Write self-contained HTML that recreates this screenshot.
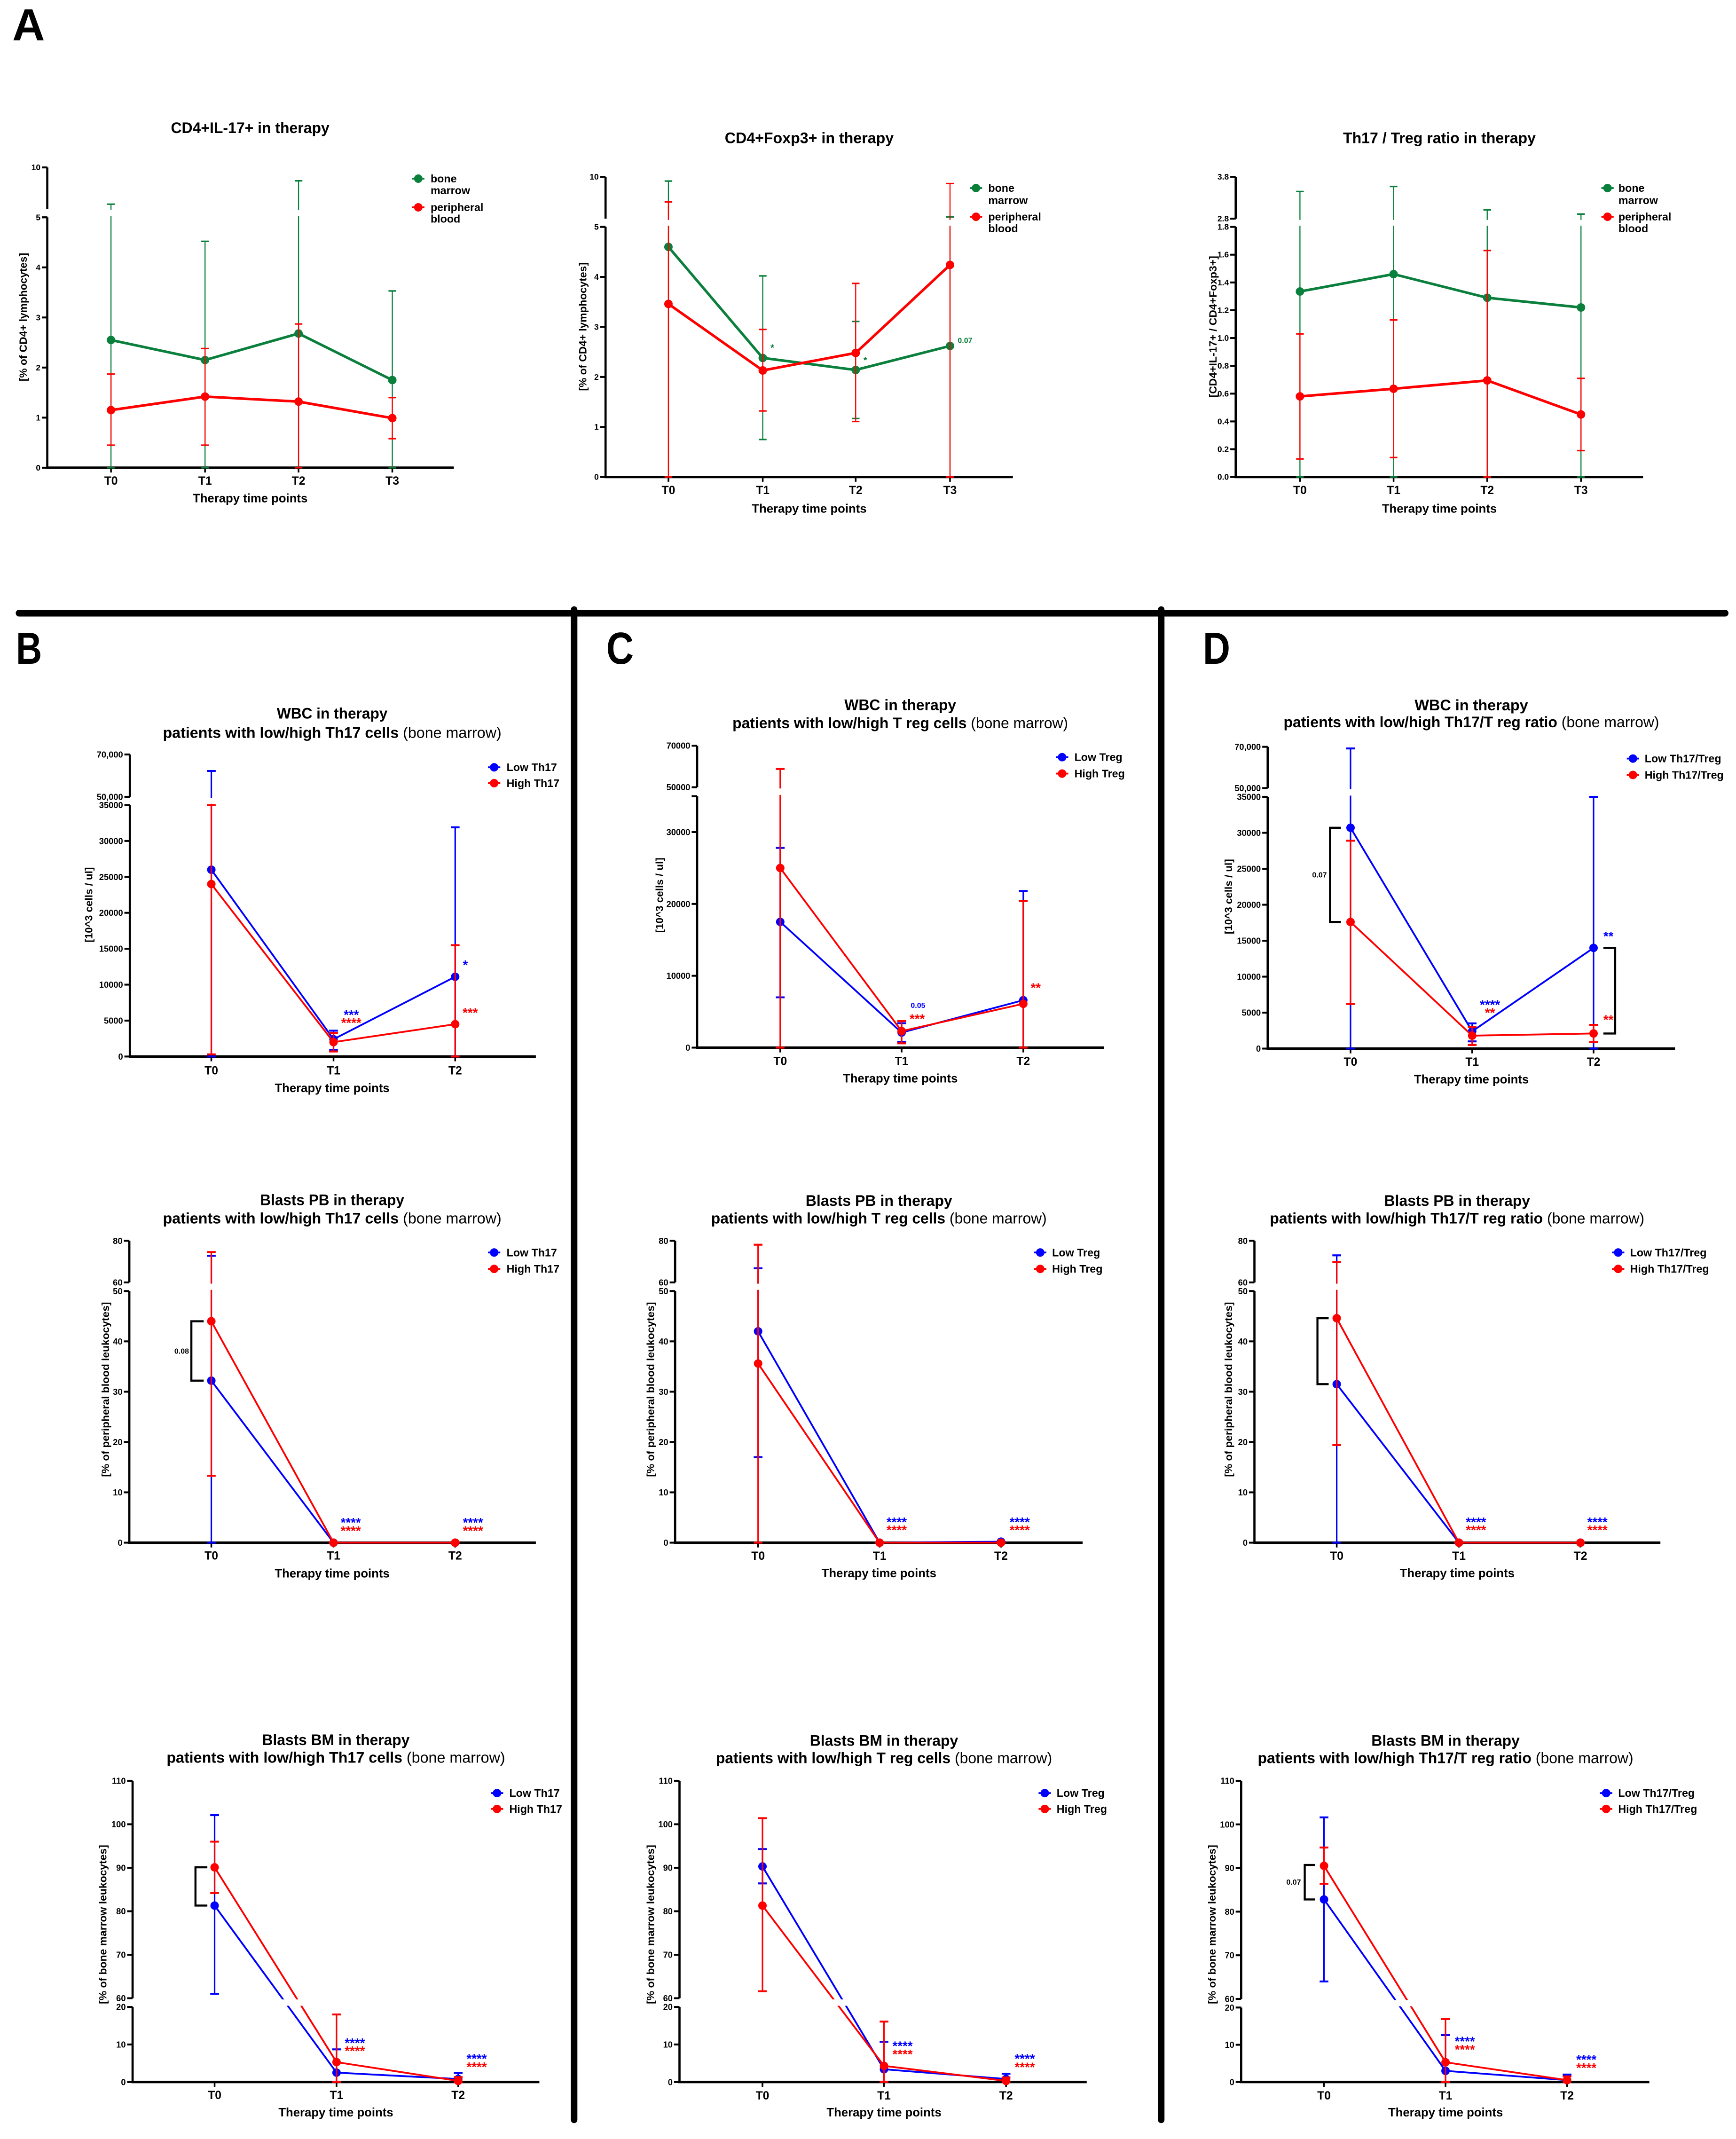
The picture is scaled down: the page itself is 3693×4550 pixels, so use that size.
<!DOCTYPE html>
<html><head><meta charset="utf-8">
<style>
html,body{margin:0;padding:0;background:#fff;}
svg{display:block;font-family:"Liberation Sans",Arial,sans-serif;}
</style></head>
<body>
<svg id="fig" xmlns="http://www.w3.org/2000/svg" width="3693" height="4550" viewBox="0 0 1270 1565" preserveAspectRatio="none">
<rect x="0" y="0" width="1270" height="1565" fill="#fff"/>
<text x="9" y="29.6" font-size="33" font-weight="bold">A</text>
<text x="11.7" y="485.6" font-size="33" font-weight="bold" textLength="19" lengthAdjust="spacingAndGlyphs">B</text>
<text x="443.6" y="485.6" font-size="33" font-weight="bold" textLength="20" lengthAdjust="spacingAndGlyphs">C</text>
<text x="880" y="485.6" font-size="33" font-weight="bold" textLength="20" lengthAdjust="spacingAndGlyphs">D</text>
<line x1="14" y1="448.6" x2="1262" y2="448.6" stroke="#000" stroke-width="5" stroke-linecap="round"/>
<line x1="420" y1="446" x2="420" y2="1551" stroke="#000" stroke-width="4.8" stroke-linecap="round"/>
<line x1="849.5" y1="446" x2="849.5" y2="1551" stroke="#000" stroke-width="4.8" stroke-linecap="round"/>
</svg>
<script>
// ---------- DATA ----------
const cats4 = ["T0","T1","T2","T3"];
const cats3 = ["T0","T1","T2"];

const a1BmMean=[2.55,2.15,2.68,1.75], a1BmUp=[5.55,4.52,8.38,3.53], a1BmLow=[0,0,0,0];
const a1PbMean=[1.15,1.42,1.32,0.99], a1PbUp=[1.87,2.38,2.87,1.40], a1PbLow=[0.45,0.45,0,0.58];
const a1LowerTicks=[0,1,2,3,4,5], a1UpperTicks=[5,10];

const a2BmMean=[4.6,2.38,2.14,2.62], a2BmUp=[9.5,4.02,3.11,5.2], a2BmLow=[0,0.75,1.17,0];
const a2PbMean=[3.46,2.13,2.48,4.24], a2PbUp=[7.0,2.95,3.87,9.2], a2PbLow=[0,1.32,1.11,0];
const a2LowerTicks=[0,1,2,3,4,5], a2UpperTicks=[5,10];

const a3BmMean=[1.335,1.46,1.29,1.22], a3BmUp=[3.45,3.57,3.01,2.91], a3BmLow=[0,0,0,0];
const a3PbMean=[0.58,0.635,0.695,0.45], a3PbUp=[1.03,1.13,1.63,0.71], a3PbLow=[0.13,0.14,0,0.19];
const a3LowerTicks=[0,0.2,0.4,0.6,0.8,1.0,1.2,1.4,1.6,1.8], a3UpperTicks=[2.8,3.8];

const b1LowMean=[26000,2400,11100], b1LowUp=[62200,3600,31900], b1LowLow=[0,900,0];
const b1HighMean=[24000,2000,4500], b1HighUp=[35000,3300,15500], b1HighLow=[300,700,0];
const c1LowMean=[17500,2100,6600], c1LowUp=[27800,3400,21800], c1LowLow=[7000,800,0];
const c1HighMean=[25000,2300,6100], c1HighUp=[58800,3700,20400], c1HighLow=[0,600,0];
const d1LowMean=[30700,2400,14000], d1LowUp=[69200,3500,35000], d1LowLow=[0,1000,0];
const d1HighMean=[17600,1800,2100], d1HighUp=[28900,3000,3300], d1HighLow=[6200,500,900];
const wbcLowerTicks=[0,5000,10000,15000,20000,25000,30000,35000];
const wbcLowerTicksC=[0,10000,20000,30000,35000];
const wbcUpperTicks=[50000,70000];

const b2LowMean=[32.2,0,0], b2LowUp=[72.8,0,0], b2LowLow=[0,0,0];
const b2HighMean=[44,0,0], b2HighUp=[74.6,0,0], b2HighLow=[13.3,0,0];
const c2LowMean=[42,0,0.2], c2LowUp=[66.8,0,0.2], c2LowLow=[17,0,0.2];
const c2HighMean=[35.6,0,0], c2HighUp=[78.1,0,0], c2HighLow=[0,0,0];
const d2LowMean=[31.5,0,0], d2LowUp=[73,0,0], d2LowLow=[0,0,0];
const d2HighMean=[44.6,0,0], d2HighUp=[69.7,0,0], d2HighLow=[19.4,0,0];
const pbLowerTicks=[0,10,20,30,40,50], pbUpperTicks=[60,80];

const b3LowMean=[81.3,2.5,0.8], b3LowUp=[102.1,8.7,2.4], b3LowLow=[61,0,0];
const b3HighMean=[90.1,5.3,0.3], b3HighUp=[96,18,1.3], b3HighLow=[84.2,0,0];
const c3LowMean=[90.3,3.4,0.8], c3LowUp=[94.3,10.7,2.2], c3LowLow=[86.4,0,0];
const c3HighMean=[81.3,4.3,0.3], c3HighUp=[101.4,16.1,1.2], c3HighLow=[61.6,0,0];
const d3LowMean=[82.8,3.0,0.5], d3LowUp=[101.6,12.6,2.0], d3LowLow=[64,0,0];
const d3HighMean=[90.5,5.3,0.5], d3HighUp=[94.7,16.9,1.5], d3HighLow=[86.4,0,0];
const bmLowerTicks=[0,10,20], bmUpperTicks=[60,70,80,90,100,110];

// ---------- DRAWING ----------
const NS="http://www.w3.org/2000/svg";
const svg=document.getElementById('fig');
const GREEN="#0b7f3c", RED="#ff0000", BLUE="#0000ff";
function mk(tag,attrs,parent){const e=document.createElementNS(NS,tag);for(const k in attrs)e.setAttribute(k,attrs[k]);(parent||svg).appendChild(e);return e;}
function yScale(c,v){
  if(v>c.lTop+1e-9){return c.yUb-(v-c.uLo)/(c.uHi-c.uLo)*(c.yUb-c.yTop);}
  return c.y0-v/c.lTop*(c.y0-c.yLb);
}
const fmtPlain=v=>String(v);
const fmtComma=v=>v.toLocaleString('en-US');
const fmt1=v=>v.toFixed(1);

function drawPanel(c){
  const g=mk('g',{});
  
  
  const Y=v=>yScale(c,v);
  c.title.forEach((ln,i)=>{
    const t=mk('text',{x:c.tx,y:c.ty[i]+3.8,'text-anchor':'middle','font-size':11,'font-weight':'bold',textLength:c.tw[i],lengthAdjust:'spacingAndGlyphs'},g);
    
    
    const s1=mk('tspan',{},t); s1.textContent=ln[0];
    if(ln[1]){const s2=mk('tspan',{'font-weight':'normal'},t); s2.textContent=ln[1];}
  });
  const yl=mk('text',{x:0,y:0,transform:`translate(${c.ylx},${c.yly}) rotate(-90)`,'text-anchor':'middle','dominant-baseline':'central','font-size':7.5,'font-weight':'bold',textLength:c.ylw,lengthAdjust:'spacingAndGlyphs'},g);
  
  
  yl.textContent=c.ylabel;
  const axL=mk('line',{x1:c.ax,y1:c.y0,x2:c.ax,y2:c.yLb,stroke:'#000','stroke-width':1.6},g);
  
  
  const axU=mk('line',{x1:c.ax,y1:c.yUb,x2:c.ax,y2:c.yTop,stroke:'#000','stroke-width':1.6},g);
  
  
  const xa=mk('line',{x1:c.ax-0.8,y1:c.y0,x2:c.right,y2:c.y0,stroke:'#000','stroke-width':1.8},g);
  
  
  const tick=(v,lab)=>{
    const y=Y(v);
    const tl=mk('line',{x1:c.ax-4,y1:y,x2:c.ax,y2:y,stroke:'#000','stroke-width':1.4},g);
    
    
    if(lab!==''){
      const tt=mk('text',{x:c.ax-5,y:y,'text-anchor':'end','dominant-baseline':'central','font-size':c.tfs||6.5,'font-weight':'bold'},g);
      
      
      tt.textContent=lab;
    }
  };
  c.lowerTicks.forEach(v=>tick(v,(c.hideLower&&c.hideLower.includes(v))?'':c.fmtL(v)));
  c.upperTicks.forEach(v=>tick(v,c.fmtU(v)));
  c.cats.forEach((cat,i)=>{
    const x=c.xs[i];
    const xt=mk('line',{x1:x,y1:c.y0,x2:x,y2:c.y0+3.5,stroke:'#000','stroke-width':1.2},g);
    
    
    const xl=mk('text',{x:x,y:c.xty,'text-anchor':'middle','dominant-baseline':'central','font-size':8.5,'font-weight':'bold'},g);
    
    
    xl.textContent=cat;
  });
  const xlab=mk('text',{x:c.xlx,y:c.xly,'text-anchor':'middle','dominant-baseline':'central','font-size':9,'font-weight':'bold',textLength:84,lengthAdjust:'spacingAndGlyphs'},g);
  
  
  xlab.textContent='Therapy time points';
  c.series.forEach(s=>{
    const sg=mk('g',{},g);
    
    
    s.mean.forEach((v,i)=>{
      const x=c.xs[i], yu=Y(s.up[i]), yl2=Y(s.low[i]);
      const eb=mk('line',{x1:x,y1:yl2,x2:x,y2:yu,stroke:s.color,'stroke-width':c.ebw},sg);
      
      
      [yu,yl2].forEach(yy=>{
        const cp=mk('line',{x1:x-c.cap,y1:yy,x2:x+c.cap,y2:yy,stroke:s.color,'stroke-width':c.ebw+0.3},sg);
        
        
      });
    });
    const pts=s.mean.map((v,i)=>c.xs[i]+','+Y(v)).join(' ');
    const pl=mk('polyline',{points:pts,fill:'none',stroke:s.color,'stroke-width':c.lw,'stroke-linejoin':'round'},sg);
    
    
    s.mean.forEach((v,i)=>{
      const m=mk('circle',{cx:c.xs[i],cy:Y(v),r:3.1,fill:s.color},sg);
      
      
    });
  });
  const gap=mk('rect',{x:c.ax+1,y:c.yUb+0.9,width:c.right-c.ax,height:c.yLb-c.yUb-1.8,fill:'#fff'},g);
  
  
  (c.brackets||[]).forEach(b=>{
    const y1=Y(b.v1), y2=Y(b.v2);
    const p=mk('path',{d:`M${b.xin},${y1} L${b.xout},${y1} L${b.xout},${y2} L${b.xin},${y2}`,fill:'none',stroke:'#000','stroke-width':1.5},g);
    
    
  });
  (c.ann||[]).forEach(a=>{
    const isStar=a.t.indexOf('*')>=0;
    const fs=a.fs||(isStar?9.5:5.5);
    const t=mk('text',{x:a.x,y:a.y+(isStar?0.55*fs:0.36*fs),'text-anchor':'middle','font-size':fs,'font-weight':'bold',fill:a.c},g);
    
    
    t.textContent=a.t;
  });
  c.legend.forEach(L=>{
    const lg=mk('g',{},g);
    
    
    const ll=mk('line',{x1:L.mx-4.5,y1:L.y,x2:L.mx+4.5,y2:L.y,stroke:L.c,'stroke-width':1.3},lg);
    
    
    const lm=mk('circle',{cx:L.mx,cy:L.y,r:3.1,fill:L.c},lg);
    
    
    const dy=L.dy||0;
    L.lines.forEach((txt,k)=>{
      const lt=mk('text',{x:c.legTx,y:L.y+k*dy,'dominant-baseline':'central','font-size':8,'font-weight':'bold'},lg);
      
      
      lt.textContent=txt;
    });
  });
}

// ---------- PANEL CONFIGS ----------
const aBase={lTop:5,uLo:5,uHi:10,fmtL:fmtPlain,fmtU:fmtPlain,ebw:0.8,cap:2.8,lw:1.9,tfs:6};
drawPanel(Object.assign({},aBase,{name:'chart-cd4-il17',cats:cats4,
  ax:34.6,right:332,y0:342.2,yLb:159,yUb:152.7,yTop:122.5,xs:[81.2,150,218.4,287],
  lowerTicks:a1LowerTicks,upperTicks:a1UpperTicks,
  title:[["CD4+IL-17+ in therapy"]],tx:183,ty:[93.5],tw:[116],
  ylabel:"[% of CD4+ lymphocytes]",ylx:17,yly:232,ylw:94,
  xty:352,xlx:183,xly:364.5,
  series:[{key:'bone-marrow',color:GREEN,mean:a1BmMean,up:a1BmUp,low:a1BmLow},{key:'peripheral-blood',color:RED,mean:a1PbMean,up:a1PbUp,low:a1PbLow}],
  legTx:315,legend:[{mx:306,y:130.7,c:GREEN,lines:["bone","marrow"],dy:8.6},{mx:306,y:151.7,c:RED,lines:["peripheral","blood"],dy:8.4}]
}));
drawPanel(Object.assign({},aBase,{name:'chart-cd4-foxp3',cats:cats4,
  ax:443,right:741,y0:349,yLb:166,yUb:160,yTop:129.4,xs:[489,558,626,695],
  lowerTicks:a2LowerTicks,upperTicks:a2UpperTicks,
  title:[["CD4+Foxp3+ in therapy"]],tx:592,ty:[101],tw:[123.6],
  ylabel:"[% of CD4+ lymphocytes]",ylx:426.5,yly:239,ylw:94,
  xty:359,xlx:592,xly:372,
  series:[{key:'bone-marrow',color:GREEN,mean:a2BmMean,up:a2BmUp,low:a2BmLow},{key:'peripheral-blood',color:RED,mean:a2PbMean,up:a2PbUp,low:a2PbLow}],
  ann:[{x:565,y:253,t:'*',c:GREEN,fs:7},{x:633,y:262,t:'*',c:GREEN,fs:7},{x:706,y:249,t:'0.07',c:GREEN,fs:5.5}],
  legTx:723,legend:[{mx:714,y:137.6,c:GREEN,lines:["bone","marrow"],dy:9},{mx:714,y:158.6,c:RED,lines:["peripheral","blood"],dy:8.6}]
}));
drawPanel(Object.assign({},aBase,{name:'chart-th17-treg-ratio',cats:cats4,
  ax:904,right:1202,y0:349,yLb:166,yUb:160,yTop:129.4,xs:[951,1019.5,1088,1156.6],
  lTop:1.8,uLo:2.8,uHi:3.8,fmtL:fmt1,fmtU:fmt1,
  lowerTicks:a3LowerTicks,upperTicks:a3UpperTicks,
  title:[["Th17 / Treg ratio in therapy"]],tx:1053,ty:[101],tw:[141],
  ylabel:"[CD4+IL-17+ / CD4+Foxp3+]",ylx:887.5,yly:239,ylw:103.6,
  xty:359,xlx:1053,xly:372,
  series:[{key:'bone-marrow',color:GREEN,mean:a3BmMean,up:a3BmUp,low:a3BmLow},{key:'peripheral-blood',color:RED,mean:a3PbMean,up:a3PbUp,low:a3PbLow}],
  legTx:1184,legend:[{mx:1176,y:137.6,c:GREEN,lines:["bone","marrow"],dy:9},{mx:1176,y:158.6,c:RED,lines:["peripheral","blood"],dy:8.6}]
}));

const bcdBase={ebw:1.1,cap:3.2,lw:1.3,tfs:6.3};
const wbcY={lTop:35000,uLo:50000,uHi:70000};
drawPanel(Object.assign({},bcdBase,wbcY,{name:'chart-wbc-th17',cats:cats3,
  ax:95,right:392,y0:773,yLb:589,yUb:583,yTop:552,xs:[154.6,244,333],
  lowerTicks:wbcLowerTicks,upperTicks:wbcUpperTicks,fmtL:fmtPlain,fmtU:fmtComma,
  title:[["WBC in therapy"],["patients with low/high Th17 cells  ","(bone marrow)"]],tx:243,ty:[522,536],tw:[81,247.7],
  ylabel:"[10^3 cells / ul]",ylx:65,yly:662,ylw:55,
  xty:783.5,xlx:243,xly:796,
  series:[{key:'low-th17',color:BLUE,mean:b1LowMean,up:b1LowUp,low:b1LowLow},{key:'high-th17',color:RED,mean:b1HighMean,up:b1HighUp,low:b1HighLow}],
  ann:[{x:257,y:740.5,t:'***',c:BLUE},{x:257,y:746.4,t:'****',c:RED},{x:340.4,y:704,t:'*',c:BLUE},{x:344,y:739,t:'***',c:RED}],
  legTx:370.6,legend:[{mx:361.5,y:561.4,c:BLUE,lines:["Low Th17"]},{mx:361.5,y:573,c:RED,lines:["High Th17"]}]
}));
drawPanel(Object.assign({},bcdBase,wbcY,{name:'chart-wbc-treg',cats:cats3,
  ax:510,right:807.6,y0:766.5,yLb:582.5,yUb:576,yTop:545.6,xs:[570.8,659.6,748.6],
  lowerTicks:wbcLowerTicksC,hideLower:[35000],upperTicks:wbcUpperTicks,fmtL:fmtPlain,fmtU:fmtPlain,
  title:[["WBC in therapy"],["patients with low/high T reg cells ","(bone marrow)"]],tx:658.6,ty:[515.8,529],tw:[81.8,245.5],
  ylabel:"[10^3 cells / ul]",ylx:482.5,yly:655,ylw:55,
  xty:776.6,xlx:658.6,xly:788.8,
  series:[{key:'low-treg',color:BLUE,mean:c1LowMean,up:c1LowUp,low:c1LowLow},{key:'high-treg',color:RED,mean:c1HighMean,up:c1HighUp,low:c1HighLow}],
  ann:[{x:671.6,y:735.5,t:'0.05',c:BLUE},{x:671,y:743.4,t:'***',c:RED},{x:757.7,y:720.7,t:'**',c:RED}],
  legTx:786,legend:[{mx:777,y:554,c:BLUE,lines:["Low Treg"]},{mx:777,y:566,c:RED,lines:["High Treg"]}]
}));
drawPanel(Object.assign({},bcdBase,wbcY,{name:'chart-wbc-ratio',cats:cats3,
  ax:927.4,right:1225.4,y0:767.2,yLb:583,yUb:576.6,yTop:546.4,xs:[988,1077,1165.8],
  lowerTicks:wbcLowerTicks,upperTicks:wbcUpperTicks,fmtL:fmtPlain,fmtU:fmtComma,
  title:[["WBC in therapy"],["patients with low/high Th17/T reg ratio ","(bone marrow)"]],tx:1076.4,ty:[516,528.3],tw:[83,274.8],
  ylabel:"[10^3 cells / ul]",ylx:898.7,yly:656,ylw:55,
  xty:777.2,xlx:1076.4,xly:789.6,
  series:[{key:'low-ratio',color:BLUE,mean:d1LowMean,up:d1LowUp,low:d1LowLow},{key:'high-ratio',color:RED,mean:d1HighMean,up:d1HighUp,low:d1HighLow}],
  brackets:[{v1:30700,v2:17600,xin:981,xout:973},{v1:14000,v2:2100,xin:1173,xout:1181.6}],
  ann:[{x:965.3,y:640,t:'0.07',c:'#000'},{x:1090,y:733,t:'****',c:BLUE},{x:1090,y:739,t:'**',c:RED},{x:1176.7,y:683,t:'**',c:BLUE},{x:1176.7,y:744,t:'**',c:RED}],
  legTx:1203.2,legend:[{mx:1194.6,y:555,c:BLUE,lines:["Low Th17/Treg"]},{mx:1194.6,y:567,c:RED,lines:["High Th17/Treg"]}]
}));
const pbY={lTop:50,uLo:60,uHi:80,fmtL:fmtPlain,fmtU:fmtPlain,lowerTicks:pbLowerTicks,upperTicks:pbUpperTicks,y0:1128.7,yLb:944.6,yUb:938.3,yTop:907.8,
  ylabel:"[% of peripheral blood leukocytes]",ylw:128,yly:1016.6};
drawPanel(Object.assign({},bcdBase,pbY,{name:'chart-blasts-pb-th17',cats:cats3,
  ax:94.6,right:392,xs:[154.6,244,333],
  title:[["Blasts PB in therapy"],["patients with low/high Th17 cells  ","(bone marrow)"]],tx:243,ty:[877.9,891.3],tw:[105.4,247.7],
  ylx:77.2,xty:1138.5,xlx:243,xly:1151,
  series:[{key:'low-th17',color:BLUE,mean:b2LowMean,up:b2LowUp,low:b2LowLow},{key:'high-th17',color:RED,mean:b2HighMean,up:b2HighUp,low:b2HighLow}],
  brackets:[{v1:44,v2:32.2,xin:149,xout:140}],
  ann:[{x:132.9,y:988.5,t:'0.08',c:'#000'},{x:256.6,y:1112,t:'****',c:BLUE},{x:256.6,y:1118,t:'****',c:RED},{x:346,y:1112,t:'****',c:BLUE},{x:346,y:1118,t:'****',c:RED}],
  legTx:370.6,legend:[{mx:361.5,y:916.4,c:BLUE,lines:["Low Th17"]},{mx:361.5,y:928.4,c:RED,lines:["High Th17"]}]
}));
drawPanel(Object.assign({},bcdBase,pbY,{name:'chart-blasts-pb-treg',cats:cats3,
  ax:493.9,right:792,xs:[554.6,643.5,732.3],
  title:[["Blasts PB in therapy"],["patients with low/high T reg cells ","(bone marrow)"]],tx:643,ty:[878.5,891.3],tw:[107.3,245.5],
  ylx:476,xty:1138.6,xlx:643,xly:1150.9,
  series:[{key:'low-treg',color:BLUE,mean:c2LowMean,up:c2LowUp,low:c2LowLow},{key:'high-treg',color:RED,mean:c2HighMean,up:c2HighUp,low:c2HighLow}],
  ann:[{x:656,y:1111.6,t:'****',c:BLUE},{x:656,y:1117.5,t:'****',c:RED},{x:746,y:1111.6,t:'****',c:BLUE},{x:746,y:1117.5,t:'****',c:RED}],
  legTx:769.7,legend:[{mx:761,y:916.4,c:BLUE,lines:["Low Treg"]},{mx:761,y:928.4,c:RED,lines:["High Treg"]}]
}));
drawPanel(Object.assign({},bcdBase,pbY,{name:'chart-blasts-pb-ratio',cats:cats3,
  ax:917.7,right:1214.7,xs:[977.9,1067.3,1156.2],
  title:[["Blasts PB in therapy"],["patients with low/high Th17/T reg ratio ","(bone marrow)"]],tx:1066,ty:[878.5,891.3],tw:[106.8,274],
  ylx:898.7,xty:1138.6,xlx:1066,xly:1150.9,
  series:[{key:'low-ratio',color:BLUE,mean:d2LowMean,up:d2LowUp,low:d2LowLow},{key:'high-ratio',color:RED,mean:d2HighMean,up:d2HighUp,low:d2HighLow}],
  brackets:[{v1:44.6,v2:31.5,xin:972,xout:963.8}],
  ann:[{x:1079.8,y:1111.6,t:'****',c:BLUE},{x:1079.8,y:1117.5,t:'****',c:RED},{x:1168.6,y:1111.6,t:'****',c:BLUE},{x:1168.6,y:1117.5,t:'****',c:RED}],
  legTx:1192.5,legend:[{mx:1183.8,y:916.4,c:BLUE,lines:["Low Th17/Treg"]},{mx:1183.8,y:928.4,c:RED,lines:["High Th17/Treg"]}]
}));
const bmY={lTop:20,uLo:60,uHi:110,fmtL:fmtPlain,fmtU:fmtPlain,lowerTicks:bmLowerTicks,upperTicks:bmUpperTicks,y0:1523.3,yLb:1468.4,yUb:1462,yTop:1302.9,
  ylabel:"[% of bone marrow leukocytes]",ylw:116.5,yly:1408};
drawPanel(Object.assign({},bcdBase,bmY,{name:'chart-blasts-bm-th17',cats:cats3,
  ax:97,right:394.6,xs:[157,246.2,335.2],
  title:[["Blasts BM in therapy"],["patients with low/high Th17 cells  ","(bone marrow)"]],tx:245.7,ty:[1273,1285.8],tw:[107.9,247.7],
  ylx:75.3,xty:1533.2,xlx:245.7,xly:1545.4,
  series:[{key:'low-th17',color:BLUE,mean:b3LowMean,up:b3LowUp,low:b3LowLow},{key:'high-th17',color:RED,mean:b3HighMean,up:b3HighUp,low:b3HighLow}],
  brackets:[{v1:90.1,v2:81.3,xin:151.7,xout:143}],
  ann:[{x:259.6,y:1492.7,t:'****',c:BLUE},{x:259.6,y:1498.6,t:'****',c:RED},{x:348.7,y:1504.3,t:'****',c:BLUE},{x:348.7,y:1510.2,t:'****',c:RED}],
  legTx:372.6,legend:[{mx:363.6,y:1311.9,c:BLUE,lines:["Low Th17"]},{mx:363.6,y:1323.5,c:RED,lines:["High Th17"]}]
}));
drawPanel(Object.assign({},bcdBase,bmY,{name:'chart-blasts-bm-treg',cats:cats3,
  ax:497.1,right:795,xs:[557.8,646.7,736],
  title:[["Blasts BM in therapy"],["patients with low/high T reg cells ","(bone marrow)"]],tx:646.7,ty:[1273.4,1286.2],tw:[108.5,246],
  ylx:476,xty:1533.5,xlx:646.7,xly:1545.4,
  series:[{key:'low-treg',color:BLUE,mean:c3LowMean,up:c3LowUp,low:c3LowLow},{key:'high-treg',color:RED,mean:c3HighMean,up:c3HighUp,low:c3HighLow}],
  ann:[{x:660.3,y:1495,t:'****',c:BLUE},{x:660.3,y:1501,t:'****',c:RED},{x:749.7,y:1504.3,t:'****',c:BLUE},{x:749.7,y:1510.4,t:'****',c:RED}],
  legTx:773,legend:[{mx:764.3,y:1311.9,c:BLUE,lines:["Low Treg"]},{mx:764.3,y:1323.5,c:RED,lines:["High Treg"]}]
}));
drawPanel(Object.assign({},bcdBase,bmY,{name:'chart-blasts-bm-ratio',cats:cats3,
  ax:908,right:1206.6,yLb:1468.8,yUb:1462.5,xs:[968.6,1057.5,1146.4],
  title:[["Blasts BM in therapy"],["patients with low/high Th17/T reg ratio ","(bone marrow)"]],tx:1057.5,ty:[1273.4,1286.2],tw:[108.5,274.8],
  ylx:886.8,xty:1533.5,xlx:1057.5,xly:1545.4,
  series:[{key:'low-ratio',color:BLUE,mean:d3LowMean,up:d3LowUp,low:d3LowLow},{key:'high-ratio',color:RED,mean:d3HighMean,up:d3HighUp,low:d3HighLow}],
  brackets:[{v1:90.7,v2:82.8,xin:962,xout:954.5}],
  ann:[{x:946.4,y:1377,t:'0.07',c:'#000'},{x:1071.6,y:1491.5,t:'****',c:BLUE},{x:1071.6,y:1497.6,t:'****',c:RED},{x:1160.5,y:1505,t:'****',c:BLUE},{x:1160.5,y:1511,t:'****',c:RED}],
  legTx:1183.8,legend:[{mx:1175,y:1311.9,c:BLUE,lines:["Low Th17/Treg"]},{mx:1175,y:1323.5,c:RED,lines:["High Th17/Treg"]}]
}));
</script>
</body></html>
